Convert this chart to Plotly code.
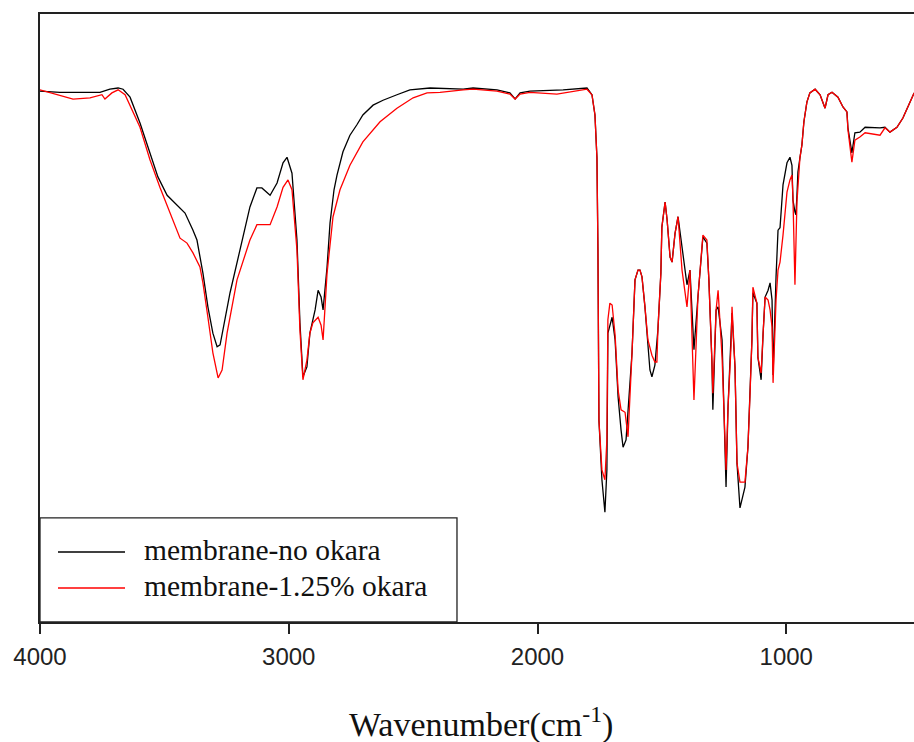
import plotly.graph_objects as go

# FTIR spectra: wavenumber (cm-1) and transmittance (arbitrary %)
wn_black = [4000, 3920, 3759, 3719, 3686, 3666, 3638, 3598, 3558, 3526,
            3489, 3449, 3417, 3385, 3369, 3345, 3325, 3305, 3288, 3276,
            3264, 3236, 3196, 3156, 3128, 3108, 3075, 3047, 3023, 3007,
            2987, 2967, 2955, 2943, 2927, 2915, 2894, 2882, 2870, 2862,
            2846, 2834, 2818, 2806, 2782, 2754, 2726, 2702, 2661, 2621,
            2565, 2513, 2432, 2299, 2259, 2163, 2111, 2090, 2070, 2030,
            1897, 1801, 1781, 1769, 1761, 1757, 1753, 1741, 1729, 1721,
            1717, 1700, 1688, 1676, 1664, 1656, 1644, 1636, 1620, 1608,
            1596, 1588, 1580, 1568, 1556, 1548, 1540, 1528, 1516, 1504,
            1500, 1487, 1479, 1467, 1459, 1447, 1435, 1419, 1399, 1387,
            1371, 1355, 1347, 1335, 1319, 1311, 1299, 1295, 1282, 1274,
            1258, 1246, 1242, 1234, 1222, 1218, 1206, 1198, 1186, 1178,
            1166, 1154, 1146, 1138, 1134, 1118, 1114, 1101, 1093, 1085,
            1073, 1065, 1057, 1053, 1041, 1033, 1025, 1013, 997, 985,
            977, 973, 965, 961, 957, 953, 945, 937, 929, 917,
            905, 884, 864, 844, 832, 816, 792, 772, 756, 752,
            736, 724, 704, 683, 623, 603, 583, 555, 531, 502,
            486]
t_black = [87.1, 86.9, 86.9, 87.4, 87.6, 87.4, 86.1, 81.9, 77.0, 73.1,
           70.1, 68.5, 67.2, 64.4, 62.8, 57.4, 51.9, 47.6, 45.4, 45.7,
           48.1, 54.2, 61.2, 68.2, 71.3, 71.3, 70.1, 72.1, 75.4, 76.3,
           73.7, 62.8, 49.3, 40.5, 42.1, 47.6, 51.4, 54.6, 53.5, 51.4,
           58.4, 65.6, 71.0, 73.4, 77.2, 79.9, 81.6, 83.2, 84.8, 85.6,
           86.5, 87.3, 87.6, 87.4, 87.6, 87.3, 86.8, 85.8, 86.8, 87.1,
           87.3, 87.6, 86.5, 83.2, 76.2, 61.2, 33.4, 23.7, 18.4, 25.3,
           47.6, 50.2, 46.5, 37.2, 31.8, 29.0, 30.2, 35.1, 44.4, 56.3,
           57.9, 57.9, 56.8, 51.9, 45.4, 41.6, 40.5, 42.4, 48.1, 57.4,
           64.9, 69.0, 66.1, 60.0, 59.2, 63.9, 66.6, 61.7, 55.5, 57.9,
           44.9, 53.5, 57.4, 63.3, 62.3, 56.3, 43.2, 35.1, 51.4, 51.9,
           46.5, 29.0, 22.5, 35.6, 45.4, 50.9, 42.1, 26.4, 19.1, 20.4,
           22.5, 29.0, 37.2, 46.5, 54.2, 52.5, 43.7, 40.0, 47.6, 53.5,
           54.6, 55.8, 53.0, 40.8, 56.8, 64.4, 64.8, 71.8, 75.4, 76.3,
           75.0, 69.3, 67.4, 66.9, 70.1, 73.9, 76.2, 78.3, 82.1, 85.3,
           86.8, 87.4, 86.5, 84.3, 86.5, 86.9, 86.1, 84.5, 83.7, 81.1,
           77.0, 80.3, 80.4, 81.2, 81.1, 81.2, 80.4, 81.2, 82.7, 85.3,
           86.8]

wn_red = [4000, 3932, 3867, 3799, 3751, 3739, 3711, 3686, 3658, 3598,
          3558, 3518, 3477, 3437, 3409, 3385, 3357, 3345, 3325, 3305,
          3284, 3268, 3248, 3208, 3156, 3128, 3075, 3047, 3023, 3003,
          2987, 2967, 2955, 2943, 2927, 2915, 2903, 2882, 2870, 2862,
          2846, 2822, 2794, 2782, 2754, 2702, 2633, 2565, 2500, 2444,
          2392, 2299, 2259, 2163, 2111, 2090, 2070, 2030, 1922, 1801,
          1781, 1769, 1761, 1757, 1753, 1741, 1729, 1721, 1717, 1709,
          1700, 1688, 1676, 1664, 1648, 1636, 1628, 1620, 1608, 1596,
          1588, 1580, 1568, 1556, 1540, 1528, 1520, 1516, 1504, 1500,
          1487, 1479, 1467, 1459, 1447, 1435, 1419, 1399, 1387, 1371,
          1355, 1347, 1335, 1319, 1311, 1299, 1295, 1282, 1274, 1258,
          1246, 1242, 1234, 1222, 1218, 1206, 1198, 1186, 1166, 1154,
          1146, 1138, 1134, 1118, 1114, 1101, 1093, 1085, 1073, 1065,
          1057, 1053, 1041, 1033, 1025, 1013, 997, 985, 977, 973,
          965, 961, 957, 945, 937, 929, 917, 905, 884, 864,
          844, 832, 816, 792, 772, 756, 752, 736, 724, 704,
          683, 623, 603, 583, 555, 531, 502, 486]
t_red = [87.3, 86.5, 85.8, 86.0, 86.5, 85.8, 86.8, 87.3, 86.5, 81.2,
         75.9, 71.4, 67.2, 63.1, 62.3, 60.7, 58.4, 55.8, 50.2, 44.4,
         40.3, 41.6, 47.6, 56.3, 62.8, 65.3, 65.3, 68.2, 71.4, 72.6,
         71.0, 61.2, 48.1, 40.0, 43.2, 47.6, 49.3, 50.2, 48.9, 46.5,
         57.4, 66.6, 71.0, 72.3, 75.0, 78.8, 82.1, 84.3, 86.0, 86.8,
         86.9, 87.3, 87.4, 87.1, 86.6, 85.8, 86.6, 86.9, 86.6, 87.4,
         86.5, 83.2, 76.2, 61.2, 33.4, 25.3, 23.7, 30.2, 49.8, 52.5,
         52.2, 47.3, 38.3, 35.1, 34.7, 30.7, 36.7, 44.4, 56.3, 57.9,
         57.9, 56.8, 51.9, 46.5, 44.0, 42.9, 42.9, 48.1, 57.4, 64.9,
         69.0, 66.1, 60.0, 59.2, 63.9, 66.6, 57.9, 51.9, 57.9, 36.7,
         53.5, 57.4, 63.6, 62.8, 56.3, 43.2, 37.8, 51.4, 54.6, 43.7,
         30.2, 25.3, 35.6, 45.4, 51.9, 42.1, 26.4, 23.3, 23.3, 29.0,
         37.2, 46.5, 55.1, 52.5, 43.7, 41.1, 47.6, 53.5, 53.0, 51.4,
         48.6, 39.5, 53.0, 57.9, 59.2, 63.6, 70.6, 72.6, 73.4, 69.7,
         55.5, 64.4, 69.0, 76.2, 78.3, 82.1, 85.3, 86.8, 87.4, 86.5,
         84.3, 86.5, 86.9, 86.1, 84.5, 83.7, 80.8, 75.5, 79.1, 79.6,
         80.3, 79.9, 81.1, 80.4, 81.2, 82.7, 85.3, 86.8]

series_names = ["membrane-no okara", "membrane-1.25% okara"]
series_colors = ["#000000", "#ff0000"]
x_ticks = [4000, 3000, 2000, 1000]
x_title = "Wavenumber(cm<sup>-1</sup>)"

AX = "#222222"
SERIF = "Liberation Serif, Times New Roman, serif"

fig = go.Figure()
fig.add_trace(go.Scatter(x=wn_black, y=t_black, mode="lines", name=series_names[0],
                         line=dict(color=series_colors[0], width=1.3)))
fig.add_trace(go.Scatter(x=wn_red, y=t_red, mode="lines", name=series_names[1],
                         line=dict(color=series_colors[1], width=1.3)))

fig.update_layout(
    width=914, height=742,
    margin=dict(l=40, r=0, t=14, b=120),
    plot_bgcolor="white", paper_bgcolor="white",
    showlegend=False,
    xaxis=dict(range=[4000, 486.4], tickvals=x_ticks, ticktext=[str(v) for v in x_ticks],
               ticks="outside", ticklen=10, tickwidth=1.5, tickcolor=AX,
               showline=True, linecolor=AX, linewidth=1.5, mirror=True,
               showgrid=False, zeroline=False, ticklabelstandoff=2,
               tickfont=dict(family="Liberation Sans Narrow, Arial Narrow, Liberation Sans, Arial",
                             size=24, color=AX)),
    yaxis=dict(range=[0.49, 99.67], showline=True, linecolor=AX, linewidth=1.5,
               showticklabels=False, ticks="", showgrid=False, zeroline=False),
)

# legend box drawn like the original (box, line samples, labels)
fig.add_shape(type="rect", xref="paper", yref="paper", x0=0, x1=0.4771, y0=0, y1=0.1711,
              line=dict(color=AX, width=1.3), fillcolor="white", layer="above")
legend_y = [0.1151, 0.0559]
for name, col, yy in zip(series_names, series_colors, legend_y):
    fig.add_shape(type="line", xref="paper", yref="paper", x0=0.0206, x1=0.0973, y0=yy, y1=yy,
                  line=dict(color=col, width=1.5), layer="above")
    fig.add_annotation(xref="paper", yref="paper", x=0.1167, y=yy + 0.003, xanchor="left",
                       yanchor="middle", text=name, showarrow=False,
                       font=dict(family=SERIF, size=29.5, color="#111111"))

fig.add_annotation(xref="paper", yref="paper", x=0.5046, y=-0.1645, xanchor="center",
                   yanchor="middle", text=x_title, showarrow=False,
                   font=dict(family=SERIF, size=34, color="#111111"))

fig.write_html("out.html")
